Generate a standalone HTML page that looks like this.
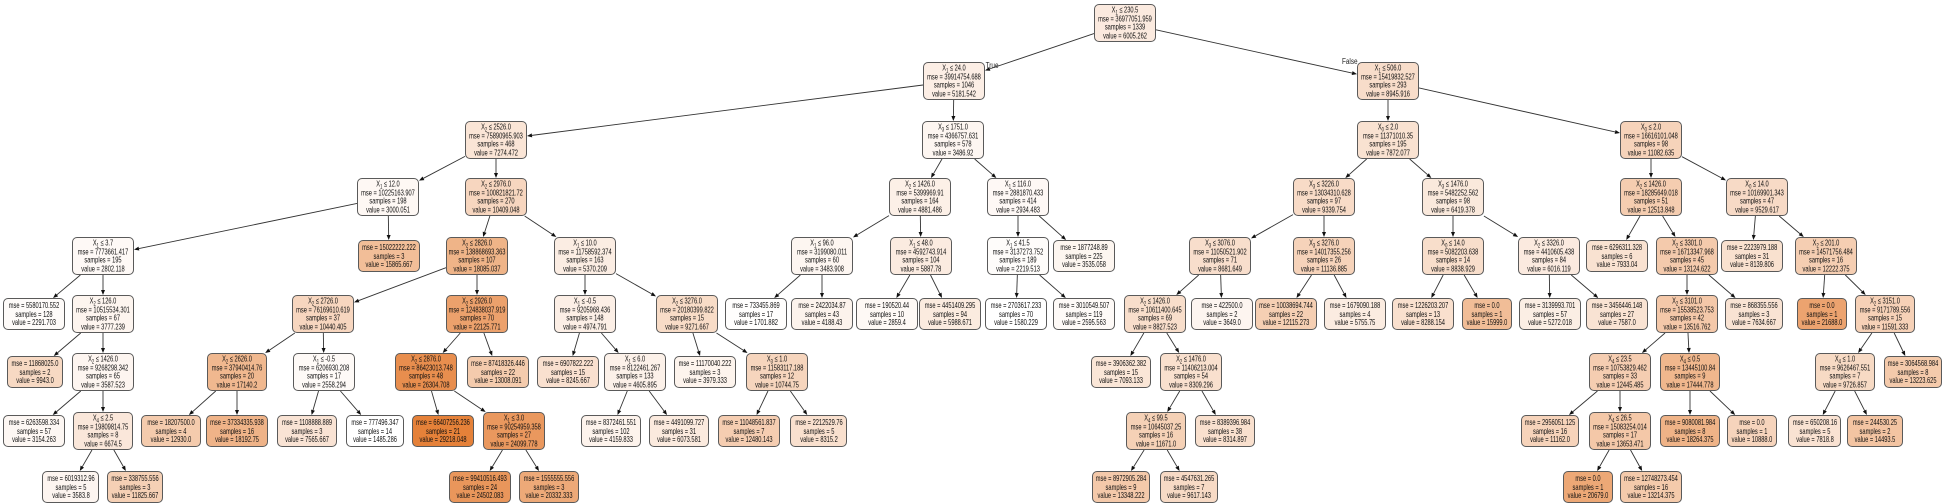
<!DOCTYPE html>
<html><head><meta charset="utf-8"><style>
html,body{margin:0;padding:0;background:#fff;}
body{width:1943px;height:502px;position:relative;overflow:hidden;font-family:"Liberation Sans",Arial,sans-serif;}
svg{position:absolute;left:0;top:0;}
.n{position:absolute;width:62px;height:38px;box-sizing:border-box;border:1px solid #5a5a5a;border-radius:5px;}
.l{height:32px;margin-top:3px;}
.t{position:absolute;left:50%;top:50%;transform:translate(-50%,-50%) scaleX(0.68);white-space:nowrap;text-align:center;font-size:8.4px;line-height:8.7px;color:#111;}
sub{font-size:6px;line-height:0;vertical-align:-2px;}
.r0{top:4px}.r1{top:62px}.r2{top:121px}.r3{top:178px}.r4{top:237px}.r5{top:295px}.r6{top:353px}.r7{top:412px}.r8{top:468px}
.lab{position:absolute;font-size:8px;color:#222;transform:scaleX(0.8);}
</style></head><body>
<svg id="edges" width="1943" height="502"></svg>
<div class="lab" style="left:984px;top:61px">True</div>
<div class="lab" style="left:1340px;top:57px">False</div>

<div class="n r0" id="n1" style="left:1094px;background:rgb(251,234,223)"><div class="t">X<sub>1</sub> ≤ 230.5<br>mse = 36977051.959<br>samples = 1339<br>value = 6005.262</div></div>

<div class="n r1" id="n2" style="left:923px;background:rgb(252,238,229)"><div class="t">X<sub>1</sub> ≤ 24.0<br>mse = 39914754.688<br>samples = 1046<br>value = 5181.542</div></div>
<div class="n r1" id="n3" style="left:1357px;background:rgb(248,221,202)"><div class="t">X<sub>1</sub> ≤ 506.0<br>mse = 15419832.527<br>samples = 293<br>value = 8945.916</div></div>

<div class="n r2" id="n4" style="left:465px;background:rgb(250,229,214)"><div class="t">X<sub>2</sub> ≤ 2526.0<br>mse = 75890965.903<br>samples = 468<br>value = 7274.472</div></div>
<div class="n r2" id="n5" style="left:922px;background:rgb(253,246,241)"><div class="t">X<sub>3</sub> ≤ 1751.0<br>mse = 4366757.631<br>samples = 578<br>value = 3486.92</div></div>
<div class="n r2" id="n6" style="left:1357px;background:rgb(249,226,209)"><div class="t">X<sub>0</sub> ≤ 2.0<br>mse = 11371010.35<br>samples = 195<br>value = 7872.077</div></div>
<div class="n r2" id="n7" style="left:1620px;background:rgb(246,211,186)"><div class="t">X<sub>0</sub> ≤ 2.0<br>mse = 16616101.048<br>samples = 98<br>value = 11082.635</div></div>

<div class="n r3" id="n8" style="left:357px;background:rgb(254,248,244)"><div class="t">X<sub>1</sub> ≤ 12.0<br>mse = 10225163.907<br>samples = 198<br>value = 3000.051</div></div>
<div class="n r3" id="n9" style="left:465px;background:rgb(247,214,191)"><div class="t">X<sub>2</sub> ≤ 2976.0<br>mse = 100821821.72<br>samples = 270<br>value = 10409.048</div></div>
<div class="n r3" id="n10" style="left:889px;background:rgb(252,240,231)"><div class="t">X<sub>2</sub> ≤ 1426.0<br>mse = 5399969.91<br>samples = 164<br>value = 4881.486</div></div>
<div class="n r3" id="n11" style="left:987px;background:rgb(254,248,245)"><div class="t">X<sub>1</sub> ≤ 116.0<br>mse = 2881870.433<br>samples = 414<br>value = 2934.483</div></div>
<div class="n r3" id="n12" style="left:1293px;background:rgb(248,219,199)"><div class="t">X<sub>3</sub> ≤ 3226.0<br>mse = 13034310.628<br>samples = 97<br>value = 9339.754</div></div>
<div class="n r3" id="n13" style="left:1422px;background:rgb(250,233,220)"><div class="t">X<sub>3</sub> ≤ 1476.0<br>mse = 5482252.562<br>samples = 98<br>value = 6419.378</div></div>
<div class="n r3" id="n14" style="left:1620px;background:rgb(245,205,176)"><div class="t">X<sub>2</sub> ≤ 1426.0<br>mse = 18285649.018<br>samples = 51<br>value = 12513.848</div></div>
<div class="n r3" id="n15" style="left:1726px;background:rgb(247,218,198)"><div class="t">X<sub>0</sub> ≤ 14.0<br>mse = 10169901.343<br>samples = 47<br>value = 9529.617</div></div>

<div class="n r4" id="n16" style="left:72px;background:rgb(254,249,246)"><div class="t">X<sub>1</sub> ≤ 3.7<br>mse = 7773661.417<br>samples = 195<br>value = 2802.118</div></div>
<div class="n r4 l" id="n17" style="left:358px;background:rgb(242,190,152)"><div class="t">mse = 15022222.222<br>samples = 3<br>value = 15865.667</div></div>
<div class="n r4" id="n18" style="left:446px;background:rgb(239,180,136)"><div class="t">X<sub>2</sub> ≤ 2826.0<br>mse = 138868693.363<br>samples = 107<br>value = 18085.037</div></div>
<div class="n r4" id="n19" style="left:554px;background:rgb(251,237,227)"><div class="t">X<sub>1</sub> ≤ 10.0<br>mse = 11758592.374<br>samples = 163<br>value = 5370.209</div></div>
<div class="n r4" id="n20" style="left:791px;background:rgb(253,246,241)"><div class="t">X<sub>1</sub> ≤ 96.0<br>mse = 3199080.011<br>samples = 60<br>value = 3483.908</div></div>
<div class="n r4" id="n21" style="left:890px;background:rgb(251,235,224)"><div class="t">X<sub>1</sub> ≤ 48.0<br>mse = 4592743.914<br>samples = 104<br>value = 5887.78</div></div>
<div class="n r4" id="n22" style="left:987px;background:rgb(254,252,250)"><div class="t">X<sub>1</sub> ≤ 41.5<br>mse = 3137273.752<br>samples = 189<br>value = 2219.513</div></div>
<div class="n r4 l" id="n23" style="left:1053px;background:rgb(253,246,240)"><div class="t">mse = 1877248.89<br>samples = 225<br>value = 3535.058</div></div>
<div class="n r4" id="n24" style="left:1189px;background:rgb(248,222,204)"><div class="t">X<sub>3</sub> ≤ 3076.0<br>mse = 11050521.902<br>samples = 71<br>value = 8681.649</div></div>
<div class="n r4" id="n25" style="left:1293px;background:rgb(246,211,186)"><div class="t">X<sub>3</sub> ≤ 3276.0<br>mse = 14017355.256<br>samples = 26<br>value = 11136.885</div></div>
<div class="n r4" id="n26" style="left:1422px;background:rgb(248,222,203)"><div class="t">X<sub>0</sub> ≤ 14.0<br>mse = 5082203.638<br>samples = 14<br>value = 8838.929</div></div>
<div class="n r4" id="n27" style="left:1518px;background:rgb(251,234,223)"><div class="t">X<sub>2</sub> ≤ 3326.0<br>mse = 4410605.438<br>samples = 84<br>value = 6016.119</div></div>
<div class="n r4 l" id="n28" style="left:1586px;background:rgb(249,226,209)"><div class="t">mse = 6296311.328<br>samples = 6<br>value = 7933.04</div></div>
<div class="n r4" id="n29" style="left:1656px;background:rgb(244,202,172)"><div class="t">X<sub>2</sub> ≤ 3301.0<br>mse = 16713347.968<br>samples = 45<br>value = 13124.622</div></div>
<div class="n r4 l" id="n30" style="left:1721px;background:rgb(249,225,207)"><div class="t">mse = 2223979.188<br>samples = 31<br>value = 8139.806</div></div>
<div class="n r4" id="n31" style="left:1795px;background:rgb(245,206,178)"><div class="t">X<sub>2</sub> ≤ 201.0<br>mse = 14571756.484<br>samples = 16<br>value = 12222.375</div></div>

<div class="n r5 l" id="n32" style="left:3px;background:rgb(254,251,249)"><div class="t">mse = 5580170.552<br>samples = 128<br>value = 2291.703</div></div>
<div class="n r5" id="n33" style="left:72px;background:rgb(253,245,239)"><div class="t">X<sub>2</sub> ≤ 126.0<br>mse = 10515534.301<br>samples = 67<br>value = 3777.239</div></div>
<div class="n r5" id="n34" style="left:292px;background:rgb(247,214,191)"><div class="t">X<sub>2</sub> ≤ 2726.0<br>mse = 76169610.619<br>samples = 37<br>value = 10440.405</div></div>
<div class="n r5" id="n35" style="left:446px;background:rgb(236,161,108)"><div class="t">X<sub>2</sub> ≤ 2926.0<br>mse = 124838037.919<br>samples = 70<br>value = 22125.771</div></div>
<div class="n r5" id="n36" style="left:554px;background:rgb(252,239,230)"><div class="t">X<sub>1</sub> ≤ -0.5<br>mse = 9205968.436<br>samples = 148<br>value = 4974.791</div></div>
<div class="n r5" id="n37" style="left:656px;background:rgb(248,220,199)"><div class="t">X<sub>2</sub> ≤ 3276.0<br>mse = 20180399.822<br>samples = 15<br>value = 9271.667</div></div>
<div class="n r5 l" id="n38" style="left:725px;background:rgb(255,254,253)"><div class="t">mse = 733455.869<br>samples = 17<br>value = 1701.882</div></div>
<div class="n r5 l" id="n39" style="left:791px;background:rgb(252,243,236)"><div class="t">mse = 2422034.87<br>samples = 43<br>value = 4188.43</div></div>
<div class="n r5 l" id="n40" style="left:856px;background:rgb(254,249,245)"><div class="t">mse = 190520.44<br>samples = 10<br>value = 2859.4</div></div>
<div class="n r5 l" id="n41" style="left:919px;background:rgb(251,235,223)"><div class="t">mse = 4451409.295<br>samples = 94<br>value = 5988.671</div></div>
<div class="n r5 l" id="n42" style="left:985px;background:rgb(255,255,255)"><div class="t">mse = 2703617.233<br>samples = 70<br>value = 1580.229</div></div>
<div class="n r5 l" id="n43" style="left:1053px;background:rgb(254,250,247)"><div class="t">mse = 3010549.507<br>samples = 119<br>value = 2595.563</div></div>
<div class="n r5" id="n44" style="left:1124px;background:rgb(248,222,203)"><div class="t">X<sub>2</sub> ≤ 1426.0<br>mse = 10611400.645<br>samples = 69<br>value = 8827.523</div></div>
<div class="n r5 l" id="n45" style="left:1191px;background:rgb(253,245,240)"><div class="t">mse = 422500.0<br>samples = 2<br>value = 3649.0</div></div>
<div class="n r5 l" id="n46" style="left:1255px;background:rgb(245,207,179)"><div class="t">mse = 10038694.744<br>samples = 22<br>value = 12115.273</div></div>
<div class="n r5 l" id="n47" style="left:1324px;background:rgb(251,236,225)"><div class="t">mse = 1679090.188<br>samples = 4<br>value = 5755.75</div></div>
<div class="n r5 l" id="n48" style="left:1392px;background:rgb(249,224,206)"><div class="t">mse = 1226203.207<br>samples = 13<br>value = 8288.154</div></div>
<div class="n r5 l" id="n49" style="left:1462px;width:50px;background:rgb(241,189,151)"><div class="t">mse = 0.0<br>samples = 1<br>value = 15999.0</div></div>
<div class="n r5 l" id="n50" style="left:1519px;background:rgb(251,238,228)"><div class="t">mse = 3139993.701<br>samples = 57<br>value = 5272.018</div></div>
<div class="n r5 l" id="n51" style="left:1586px;background:rgb(249,227,211)"><div class="t">mse = 3456446.148<br>samples = 27<br>value = 7587.0</div></div>
<div class="n r5" id="n52" style="left:1656px;background:rgb(244,200,169)"><div class="t">X<sub>2</sub> ≤ 3101.0<br>mse = 15538523.753<br>samples = 42<br>value = 13516.762</div></div>
<div class="n r5 l" id="n53" style="left:1725px;width:58px;background:rgb(249,227,211)"><div class="t">mse = 868355.556<br>samples = 3<br>value = 7634.667</div></div>
<div class="n r5 l" id="n54" style="left:1797px;width:50px;background:rgb(236,163,111)"><div class="t">mse = 0.0<br>samples = 1<br>value = 21688.0</div></div>
<div class="n r5" id="n55" style="left:1855px;width:60px;background:rgb(246,209,183)"><div class="t">X<sub>2</sub> ≤ 3151.0<br>mse = 9171789.556<br>samples = 15<br>value = 11591.333</div></div>

<div class="n r6 l" id="n56" style="left:7px;width:56px;background:rgb(247,217,195)"><div class="t">mse = 11868025.0<br>samples = 2<br>value = 9943.0</div></div>
<div class="n r6" id="n57" style="left:72px;background:rgb(253,245,240)"><div class="t">X<sub>2</sub> ≤ 1426.0<br>mse = 9268298.342<br>samples = 65<br>value = 3587.523</div></div>
<div class="n r6" id="n58" style="left:207px;width:60px;background:rgb(240,184,143)"><div class="t">X<sub>2</sub> ≤ 2626.0<br>mse = 37940414.76<br>samples = 20<br>value = 17140.2</div></div>
<div class="n r6" id="n59" style="left:293px;background:rgb(254,250,247)"><div class="t">X<sub>1</sub> ≤ -0.5<br>mse = 6206930.208<br>samples = 17<br>value = 2558.294</div></div>
<div class="n r6" id="n60" style="left:395px;background:rgb(232,142,78)"><div class="t">X<sub>2</sub> ≤ 2876.0<br>mse = 86423013.748<br>samples = 48<br>value = 26304.708</div></div>
<div class="n r6 l" id="n61" style="left:467px;background:rgb(244,203,173)"><div class="t">mse = 87418326.446<br>samples = 22<br>value = 13008.091</div></div>
<div class="n r6 l" id="n62" style="left:537px;background:rgb(249,224,207)"><div class="t">mse = 6907822.222<br>samples = 15<br>value = 8245.667</div></div>
<div class="n r6" id="n63" style="left:604px;background:rgb(252,241,233)"><div class="t">X<sub>1</sub> ≤ 6.0<br>mse = 8122461.267<br>samples = 133<br>value = 4605.895</div></div>
<div class="n r6 l" id="n64" style="left:674px;background:rgb(253,244,237)"><div class="t">mse = 11170040.222<br>samples = 3<br>value = 3979.333</div></div>
<div class="n r6" id="n65" style="left:746px;background:rgb(246,213,189)"><div class="t">X<sub>3</sub> ≤ 1.0<br>mse = 11583117.188<br>samples = 12<br>value = 10744.75</div></div>
<div class="n r6 l" id="n66" style="left:1091px;width:60px;background:rgb(250,230,215)"><div class="t">mse = 3906362.382<br>samples = 15<br>value = 7093.133</div></div>
<div class="n r6" id="n67" style="left:1160px;background:rgb(249,224,206)"><div class="t">X<sub>2</sub> ≤ 1476.0<br>mse = 11406213.004<br>samples = 54<br>value = 8309.296</div></div>
<div class="n r6" id="n68" style="left:1589px;background:rgb(245,205,177)"><div class="t">X<sub>4</sub> ≤ 23.5<br>mse = 10753829.462<br>samples = 33<br>value = 12445.485</div></div>
<div class="n r6" id="n69" style="left:1660px;width:60px;background:rgb(240,183,141)"><div class="t">X<sub>4</sub> ≤ 0.5<br>mse = 13445100.84<br>samples = 9<br>value = 17444.778</div></div>
<div class="n r6" id="n70" style="left:1815px;width:60px;background:rgb(247,218,196)"><div class="t">X<sub>4</sub> ≤ 1.0<br>mse = 9626467.551<br>samples = 7<br>value = 9726.857</div></div>
<div class="n r6 l" id="n71" style="left:1884px;width:58px;background:rgb(244,202,171)"><div class="t">mse = 3064568.984<br>samples = 8<br>value = 13223.625</div></div>

<div class="n r7 l" id="n72" style="left:3px;background:rgb(253,247,243)"><div class="t">mse = 6263598.334<br>samples = 57<br>value = 3154.263</div></div>
<div class="n r7" id="n73" style="left:73px;width:60px;background:rgb(250,231,218)"><div class="t">X<sub>4</sub> ≤ 2.5<br>mse = 19809814.75<br>samples = 8<br>value = 6674.5</div></div>
<div class="n r7 l" id="n74" style="left:141px;width:60px;background:rgb(244,203,173)"><div class="t">mse = 18207500.0<br>samples = 4<br>value = 12930.0</div></div>
<div class="n r7 l" id="n75" style="left:206px;background:rgb(239,179,136)"><div class="t">mse = 37334335.938<br>samples = 16<br>value = 18192.75</div></div>
<div class="n r7 l" id="n76" style="left:277px;width:60px;background:rgb(249,227,212)"><div class="t">mse = 1108888.889<br>samples = 3<br>value = 7565.667</div></div>
<div class="n r7 l" id="n77" style="left:346px;width:58px;background:rgb(255,255,255)"><div class="t">mse = 777496.347<br>samples = 14<br>value = 1485.286</div></div>
<div class="n r7 l" id="n78" style="left:412px;background:rgb(229,129,57)"><div class="t">mse = 66407256.236<br>samples = 21<br>value = 29218.048</div></div>
<div class="n r7" id="n79" style="left:483px;background:rgb(234,152,94)"><div class="t">X<sub>1</sub> ≤ 3.0<br>mse = 90254959.358<br>samples = 27<br>value = 24099.778</div></div>
<div class="n r7 l" id="n80" style="left:581px;width:60px;background:rgb(253,243,236)"><div class="t">mse = 8372461.551<br>samples = 102<br>value = 4159.833</div></div>
<div class="n r7 l" id="n81" style="left:649px;width:60px;background:rgb(251,234,222)"><div class="t">mse = 4491099.727<br>samples = 31<br>value = 6073.581</div></div>
<div class="n r7 l" id="n82" style="left:718px;background:rgb(245,205,177)"><div class="t">mse = 11048561.837<br>samples = 7<br>value = 12480.143</div></div>
<div class="n r7 l" id="n83" style="left:790px;width:57px;background:rgb(249,224,206)"><div class="t">mse = 2212529.76<br>samples = 5<br>value = 8315.2</div></div>
<div class="n r7" id="n84" style="left:1126px;width:60px;background:rgb(245,209,182)"><div class="t">X<sub>4</sub> ≤ 99.5<br>mse = 10645037.25<br>samples = 16<br>value = 11671.0</div></div>
<div class="n r7 l" id="n85" style="left:1195px;width:60px;background:rgb(249,224,206)"><div class="t">mse = 8389396.984<br>samples = 38<br>value = 8314.897</div></div>
<div class="n r7 l" id="n86" style="left:1521px;width:58px;background:rgb(246,211,186)"><div class="t">mse = 2956051.125<br>samples = 16<br>value = 11162.0</div></div>
<div class="n r7" id="n87" style="left:1589px;background:rgb(244,200,168)"><div class="t">X<sub>4</sub> ≤ 26.5<br>mse = 15083254.014<br>samples = 17<br>value = 13653.471</div></div>
<div class="n r7 l" id="n88" style="left:1660px;width:60px;background:rgb(239,179,135)"><div class="t">mse = 9080081.984<br>samples = 8<br>value = 18264.375</div></div>
<div class="n r7 l" id="n89" style="left:1727px;width:50px;background:rgb(246,212,188)"><div class="t">mse = 0.0<br>samples = 1<br>value = 10888.0</div></div>
<div class="n r7 l" id="n90" style="left:1788px;width:53px;background:rgb(249,226,210)"><div class="t">mse = 650208.16<br>samples = 5<br>value = 7818.8</div></div>
<div class="n r7 l" id="n91" style="left:1847px;width:56px;background:rgb(243,196,162)"><div class="t">mse = 244530.25<br>samples = 2<br>value = 14493.5</div></div>

<div class="n r8 l" id="n92" style="left:42px;width:57px;background:rgb(253,245,240)"><div class="t">mse = 6019312.96<br>samples = 5<br>value = 3583.8</div></div>
<div class="n r8 l" id="n93" style="left:107px;width:56px;background:rgb(245,208,181)"><div class="t">mse = 338755.556<br>samples = 3<br>value = 11825.667</div></div>
<div class="n r8 l" id="n94" style="left:449px;background:rgb(233,150,91)"><div class="t">mse = 99410516.493<br>samples = 24<br>value = 24502.083</div></div>
<div class="n r8 l" id="n95" style="left:519px;width:60px;background:rgb(237,169,120)"><div class="t">mse = 1555555.556<br>samples = 3<br>value = 20332.333</div></div>
<div class="n r8 l" id="n96" style="left:1092px;width:58px;background:rgb(244,201,170)"><div class="t">mse = 8972905.284<br>samples = 9<br>value = 13348.222</div></div>
<div class="n r8 l" id="n97" style="left:1160px;width:58px;background:rgb(247,218,197)"><div class="t">mse = 4547631.265<br>samples = 7<br>value = 9617.143</div></div>
<div class="n r8 l" id="n98" style="left:1563px;width:50px;background:rgb(237,168,118)"><div class="t">mse = 0.0<br>samples = 1<br>value = 20679.0</div></div>
<div class="n r8 l" id="n99" style="left:1620px;background:rgb(244,202,171)"><div class="t">mse = 12748273.454<br>samples = 16<br>value = 13214.375</div></div>

<script>
(function(){
var E=[[1,2],[1,3],[2,4],[2,5],[3,6],[3,7],[4,8],[4,9],[5,10],[5,11],[6,12],[6,13],[7,14],[7,15],
[8,16],[8,17],[9,18],[9,19],[10,20],[10,21],[11,22],[11,23],[12,24],[12,25],[13,26],[13,27],[14,28],[14,29],[15,30],[15,31],
[16,32],[16,33],[18,34],[18,35],[19,36],[19,37],[20,38],[20,39],[21,40],[21,41],[22,42],[22,43],[24,44],[24,45],[25,46],[25,47],
[26,48],[26,49],[27,50],[27,51],[29,52],[29,53],[31,54],[31,55],[33,56],[33,57],[34,58],[34,59],[35,60],[35,61],[36,62],[36,63],
[37,64],[37,65],[44,66],[44,67],[52,68],[52,69],[55,70],[55,71],[57,72],[57,73],[58,74],[58,75],[59,76],[59,77],[60,78],[60,79],
[63,80],[63,81],[65,82],[65,83],[67,84],[67,85],[68,86],[68,87],[69,88],[69,89],[70,90],[70,91],[73,92],[73,93],[79,94],[79,95],
[84,96],[84,97],[87,98],[87,99]];
var svg=document.getElementById('edges'),out='';
function R(i){var e=document.getElementById('n'+i),r=e.getBoundingClientRect();return{x:r.left+r.width/2,y:r.top+r.height/2,w:r.width/2,h:r.height/2};}
function clip(r,dx,dy){var tx=dx?r.w/Math.abs(dx):1e9,ty=dy?r.h/Math.abs(dy):1e9;return Math.min(tx,ty);}
E.forEach(function(p){var a=R(p[0]),b=R(p[1]);var dx=b.x-a.x,dy=b.y-a.y;
var t1=clip(a,dx,dy),t2=clip(b,dx,dy);
var sx=a.x+dx*t1,sy=a.y+dy*t1,ex=b.x-dx*t2,ey=b.y-dy*t2;
var L=Math.sqrt((ex-sx)*(ex-sx)+(ey-sy)*(ey-sy)),ux=(ex-sx)/L,uy=(ey-sy)/L;
var bx=ex-ux*5,by=ey-uy*5,px=-uy*2,py=ux*2;
out+='<line x1="'+sx+'" y1="'+sy+'" x2="'+bx+'" y2="'+by+'" stroke="#333" stroke-width="0.9"/>';
out+='<polygon points="'+ex+','+ey+' '+(bx+px)+','+(by+py)+' '+(bx-px)+','+(by-py)+'" fill="#111"/>';});
svg.innerHTML=out;})();
</script>
</body></html>
